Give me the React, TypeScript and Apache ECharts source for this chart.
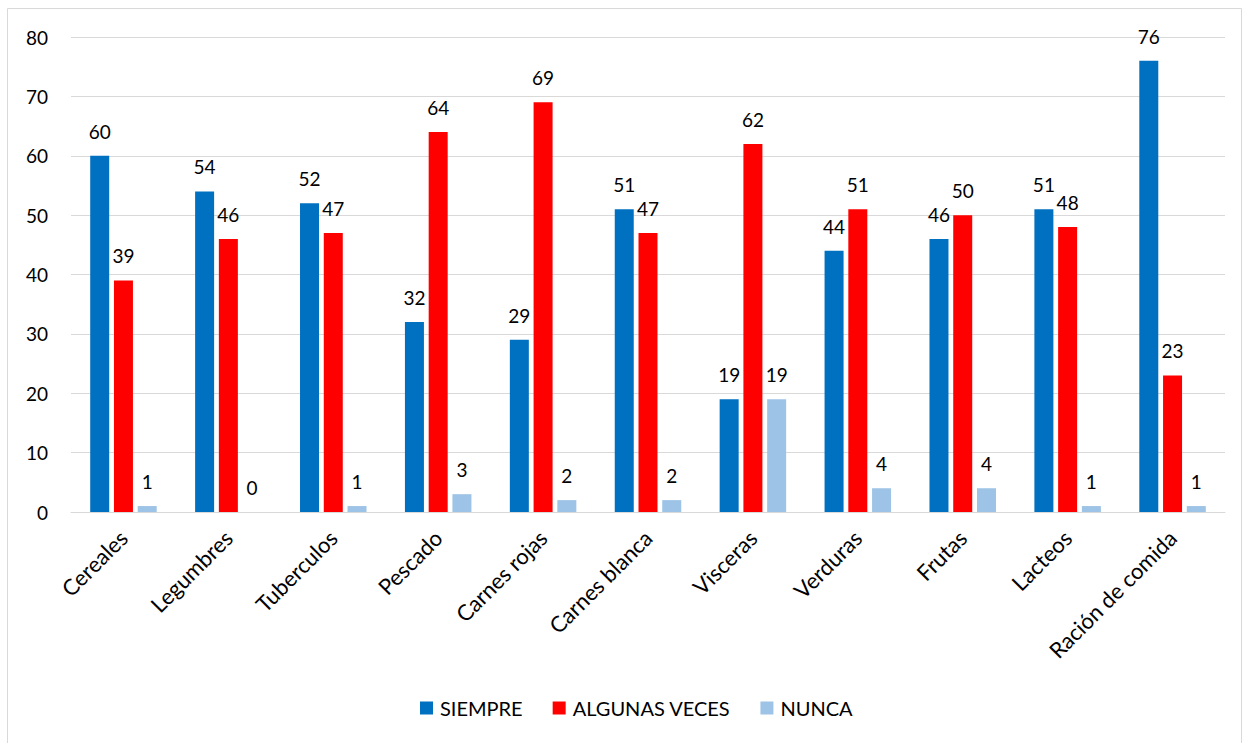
import React, { useEffect, useRef } from "react";
import * as echarts from "echarts";

const categories = [
  "Cereales",
  "Legumbres",
  "Tuberculos",
  "Pescado",
  "Carnes rojas",
  "Carnes blanca",
  "Visceras",
  "Verduras",
  "Frutas",
  "Lacteos",
  "Ración de comida",
];
const siempre = [60, 54, 52, 32, 29, 51, 19, 44, 46, 51, 76];
const algunasVeces = [39, 46, 47, 64, 69, 47, 62, 51, 50, 48, 23];
const nunca = [1, 0, 1, 3, 2, 2, 19, 4, 4, 1, 1];
const seriesNames = ["SIEMPRE", "ALGUNAS VECES", "NUNCA"];
const colors = ["#0070C0", "#FF0000", "#9DC3E6"];

const FONT = "Lato, 'Open Sans', sans-serif";

export default function App() {
  const ref = useRef<HTMLDivElement>(null);
  useEffect(() => {
    document.body.style.margin = "0";
    const chart = echarts.init(ref.current!, null, { renderer: "svg" });
    const values = [siempre, algunasVeces, nunca];
    chart.setOption({
      animation: false,
      backgroundColor: "#ffffff",
      textStyle: { fontFamily: FONT },
      graphic: [
        {
          type: "rect",
          shape: { x: 7.5, y: 8.5, width: 1234, height: 740 },
          style: { fill: "none", stroke: "#d9d9d9", lineWidth: 1 },
          silent: true,
        },
      ],
      grid: { left: 71, right: 18, top: 37, bottom: 231, containLabel: false },
      legend: {
        bottom: 20,
        left: 415,
        itemWidth: 13,
        itemHeight: 13,
        itemGap: 30,
        icon: "rect",
        textStyle: { fontSize: 20, color: "#000", fontFamily: FONT, padding: [0, 0, 0, 2] },
        data: seriesNames,
      },
      xAxis: {
        type: "category",
        data: categories,
        axisTick: { show: false },
        axisLine: { lineStyle: { color: "#d9d9d9", width: 1 } },
        axisLabel: {
          rotate: 45,
          interval: 0,
          fontSize: 22,
          color: "#000",
          fontFamily: FONT,
          margin: 22,
        },
      },
      yAxis: {
        type: "value",
        min: 0,
        max: 80,
        interval: 10,
        axisLine: { show: false },
        axisTick: { show: false },
        splitLine: { lineStyle: { color: "#d9d9d9", width: 1 } },
        axisLabel: { fontSize: 19, color: "#000", fontFamily: FONT, margin: 23 },
      },
      series: seriesNames.map((name, i) => ({
        name,
        type: "bar",
        data: values[i],
        barWidth: 19,
        barGap: "25%",
        itemStyle: { color: colors[i] },
        label: {
          show: true,
          position: "top",
          distance: 15,
          fontSize: 19,
          color: "#000",
          fontFamily: FONT,
        },
      })),
    });
    return () => chart.dispose();
  }, []);
  return <div ref={ref} style={{ width: 1243, height: 743 }} />;
}
